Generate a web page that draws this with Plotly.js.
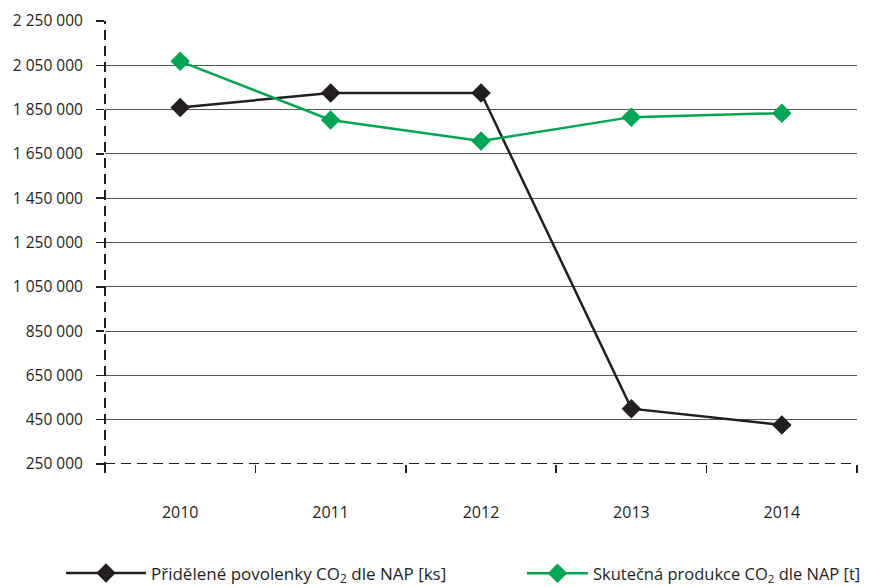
<!DOCTYPE html>
<html>
<head>
<meta charset="utf-8">
<script src="https://cdn.plot.ly/plotly-3.0.1.min.js"></script>
<style>html,body{margin:0;padding:0;background:#fff;}#chart{width:870px;height:587px;}</style>
</head>
<body>
<div id="chart"></div>
<script>
const years = ["2010", "2011", "2012", "2013", "2014"];
const allocated = [1860000, 1925000, 1925000, 500000, 426000];
const actual = [2068000, 1803000, 1708000, 1816000, 1834000];
const yTickVals = [250000, 450000, 650000, 850000, 1050000, 1250000, 1450000, 1650000, 1850000, 2050000, 2250000];
const yTickText = ["250 000", "450 000", "650 000", "850 000", "1 050 000", "1 250 000", "1 450 000", "1 650 000", "1 850 000", "2 050 000", "2 250 000"];
const seriesNames = ["Přidělené povolenky CO<sub>2</sub> dle NAP [ks]", "Skutečná produkce CO<sub>2</sub> dle NAP [t]"];

const traces = [
  {x: years, y: allocated, name: seriesNames[0], type: "scatter", mode: "lines+markers", legend: "legend",
   line: {color: "#231f20", width: 2.5}, marker: {symbol: "diamond", size: 15, color: "#231f20"}},
  {x: years, y: actual, name: seriesNames[1], type: "scatter", mode: "lines+markers", legend: "legend2",
   line: {color: "#00a651", width: 2.5}, marker: {symbol: "diamond", size: 15, color: "#00a651"}}
];

const layout = {
  width: 870, height: 587,
  margin: {l: 105, r: 13, t: 21, b: 123, autoexpand: false},
  paper_bgcolor: "#fff", plot_bgcolor: "#fff",
  font: {family: "Open Sans, sans-serif", size: 16, color: "#231f20"},
  showlegend: true,
  legend: {orientation: "h", x: -0.0585, xanchor: "left", y: -0.247, yanchor: "middle",
           font: {size: 17, color: "#231f20"}, itemwidth: 80, bgcolor: "rgba(0,0,0,0)"},
  legend2: {orientation: "h", x: 0.5545, xanchor: "left", y: -0.247, yanchor: "middle",
           font: {size: 16.5, color: "#231f20"}, itemwidth: 61, bgcolor: "rgba(0,0,0,0)"},
  xaxis: {type: "category", range: [-0.5, 4.5], showgrid: false, showline: false, zeroline: false,
          ticks: "outside", tickson: "boundaries", ticklen: 8, tickwidth: 1.5, tickcolor: "#231f20",
          ticklabelstandoff: 37, tickfont: {size: 16}},
  yaxis: {range: [250000, 2250000], tickvals: yTickVals, ticktext: yTickText,
          showgrid: true, gridcolor: "#555", gridwidth: 1, showline: false, zeroline: false,
          ticks: "outside", ticklen: 8, tickwidth: 1.5, tickcolor: "#231f20", ticklabelstandoff: 10, tickfont: {size: 15.5}},
  shapes: [
    {type: "line", xref: "paper", yref: "y", x0: 0, x1: 1, y0: 250000, y1: 250000,
     line: {color: "#231f20", width: 2, dash: "10px,6px"}, layer: "above"},
    {type: "line", xref: "paper", yref: "paper", x0: 0, x1: 0, y0: -0.018, y1: 1,
     line: {color: "#231f20", width: 2, dash: "10px,6px"}, layer: "above"}
  ]
};
Plotly.newPlot("chart", traces, layout, {displayModeBar: false, staticPlot: true});
</script>
</body>
</html>
